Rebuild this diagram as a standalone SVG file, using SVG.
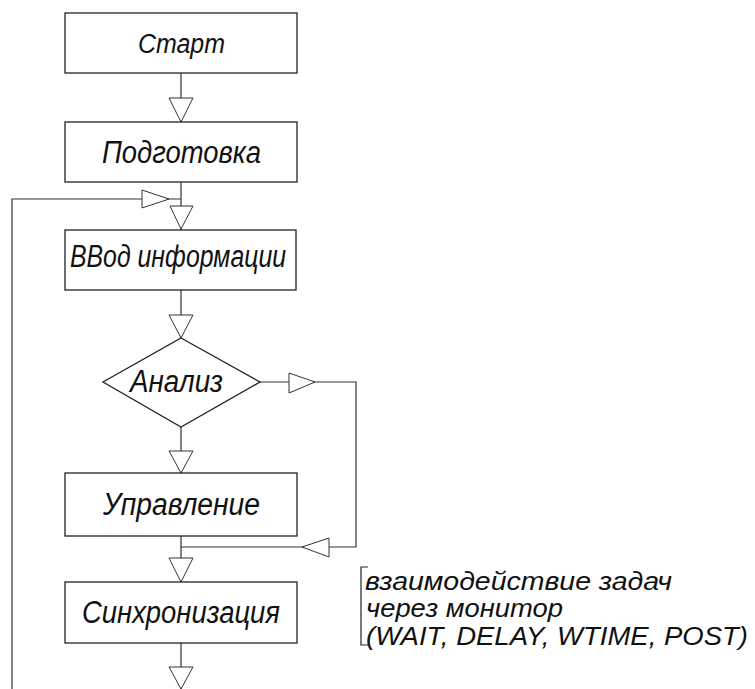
<svg xmlns="http://www.w3.org/2000/svg" width="755" height="689" viewBox="0 0 755 689">
<style>
.box{fill:#fff;stroke:#222;stroke-width:1.3}
.ln{fill:none;stroke:#333;stroke-width:1.2}
.ar{fill:#fff;stroke:#333;stroke-width:1}
.t{font-family:"Liberation Sans Narrow","Liberation Sans",sans-serif;font-style:italic;fill:#111;font-size:31px}
.a{font-family:"Liberation Sans Narrow","Liberation Sans",sans-serif;font-style:italic;fill:#111;font-size:25px}
</style>
<rect width="755" height="689" fill="#fff"/>
<g id="connectors">
<path class="ln" d="M181 73V122M181 182V230M12 689V199H181M181 290V338M260 382H356V547H181M181 427V473M181 536V582M181 643V689"/>
<polygon class="ar" points="169,98 193,98 181,122"/>
<polygon class="ar" points="142,190 142,208 169,199"/>
<polygon class="ar" points="170,206 193,206 181,229"/>
<polygon class="ar" points="169,315 193,315 181,338"/>
<polygon class="ar" points="289,373 289,393 315,382"/>
<polygon class="ar" points="329,538 329,557 302,547"/>
<polygon class="ar" points="169,451 193,451 181,473"/>
<polygon class="ar" points="169,558 193,558 181,582"/>
<polygon class="ar" points="169,667 193,667 181,689"/>
</g>
<g id="start"><rect class="box" x="65" y="13" width="232" height="60"/><text class="t" x="138" y="53" style="font-size:27px" textLength="87" lengthAdjust="spacingAndGlyphs">Старт</text></g>
<g id="prep"><rect class="box" x="65" y="122" width="232" height="60"/><text class="t" x="102" y="163" textLength="159" lengthAdjust="spacingAndGlyphs">Подготовка</text></g>
<g id="input"><rect class="box" x="65" y="230" width="231" height="60"/><text class="t" x="70" y="267" textLength="216" lengthAdjust="spacingAndGlyphs">ВВод информации</text></g>
<g id="analysis"><polygon class="box" points="181,338 260,382 181,427 103,382"/><text class="t" x="130" y="392" textLength="93" lengthAdjust="spacingAndGlyphs">Анализ</text></g>
<g id="control"><rect class="box" x="65" y="473" width="232" height="63"/><text class="t" x="103" y="515" textLength="157" lengthAdjust="spacingAndGlyphs">Управление</text></g>
<g id="sync"><rect class="box" x="65" y="582" width="232" height="61"/><text class="t" x="82" y="623" textLength="198" lengthAdjust="spacingAndGlyphs">Синхронизация</text></g>
<g id="note">
<path class="ln" d="M368 567H361V645H368" style="stroke:#222"/>
<text class="a" x="365" y="590" textLength="307" lengthAdjust="spacingAndGlyphs">взаимодействие задач</text>
<text class="a" x="366" y="617" textLength="197" lengthAdjust="spacingAndGlyphs">через монитор</text>
<text class="a" x="366" y="645" textLength="382" lengthAdjust="spacingAndGlyphs">(WAIT, DELAY, WTIME, POST)</text>
</g>
</svg>
